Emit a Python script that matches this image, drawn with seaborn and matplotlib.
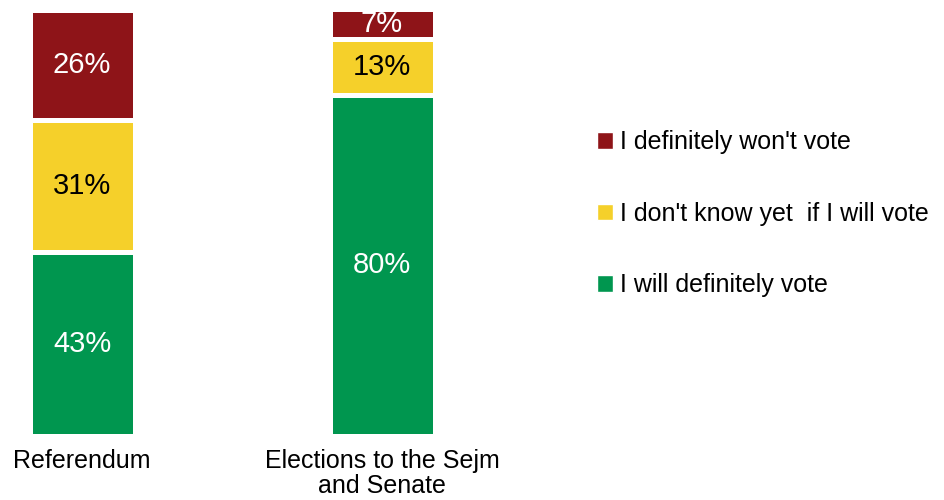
import numpy as np
import pandas as pd
import seaborn as sns
from matplotlib import pyplot as plt
from matplotlib.patches import Patch

categories = ["Referendum", "Elections to the Sejm\nand Senate"]
series = ["I will definitely vote", "I don't know yet  if I will vote", "I definitely won't vote"]
will_vote = [43, 80]
dont_know = [31, 13]
wont_vote = [26, 7]
colors = ["#00964F", "#F5D02A", "#8E1418"]
text_colors = ["white", "black", "white"]

sns.set_style("white")
plt.rcParams["font.family"] = ["Liberation Sans", "DejaVu Sans"]
plt.rcParams["text.color"] = "black"
plt.rcParams["xtick.color"] = "black"

fig = plt.figure(figsize=(9.44, 5), dpi=100)
ax = fig.add_axes([0, 0.129, 480 / 944, 0.852])

bottom = np.zeros(len(categories))
for name, vals, col, tcol in zip(series, [will_vote, dont_know, wont_vote], colors, text_colors):
    df = pd.DataFrame({"cat": categories, "val": vals})
    sns.barplot(data=df, x="cat", y="val", order=categories, color=col, width=0.35,
                bottom=bottom, edgecolor="white", linewidth=3.6, saturation=1, ax=ax)
    cont = ax.containers[-1]
    ax.bar_label(cont, labels=[f"{v}%" for v in vals], label_type="center",
                 color=tcol, fontsize=21)
    bottom = bottom + np.array(vals)

ax.set_xlim(-82 / 300, (480 - 82) / 300)
ax.set_ylim(0, 100)
ax.set_xlabel("")
ax.set_ylabel("")
ax.set_yticks([])
ax.tick_params(axis="x", length=0, pad=10, labelsize=18, labelcolor="black")
for lab in ax.get_xticklabels():
    lab.set_linespacing(1.02)
sns.despine(ax=ax, left=True, bottom=True)

handles = [Patch(facecolor=c) for c in colors[::-1]]
fig.legend(handles, series[::-1], loc="center left", bbox_to_anchor=(597 / 944, 1 - 214 / 500),
           frameon=False, fontsize=18, handlelength=0.64, handleheight=0.64,
           handletextpad=0.28, labelspacing=1.9, borderpad=0, borderaxespad=0,
           labelcolor="black")

fig.savefig("out.png", dpi=100)
